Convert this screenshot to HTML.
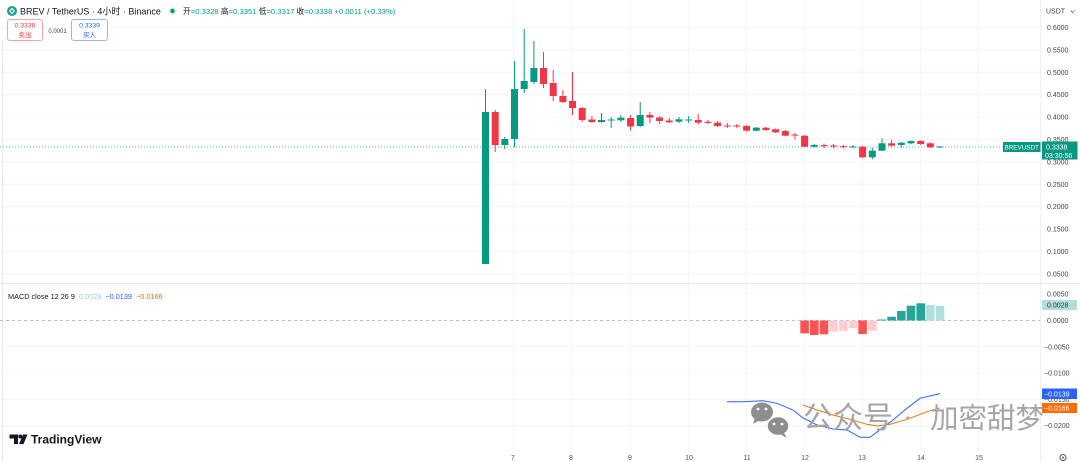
<!DOCTYPE html>
<html><head><meta charset="utf-8"><style>
html,body{margin:0;padding:0;background:#fff;}
body{width:1080px;height:462px;overflow:hidden;}
svg{display:block;font-family:"Liberation Sans","Noto Sans CJK SC",sans-serif;}
text{white-space:pre;}
</style></head><body>
<svg width="1080" height="462" viewBox="0 0 1080 462" xmlns="http://www.w3.org/2000/svg">
<rect width="1080" height="462" fill="#fff"/>
<!-- grid main -->
<g stroke="#f2f4f8" stroke-width="1">
<line x1="0" x2="1040" y1="27.5" y2="27.5"/><line x1="0" x2="1040" y1="49.9" y2="49.9"/><line x1="0" x2="1040" y1="72.3" y2="72.3"/><line x1="0" x2="1040" y1="94.7" y2="94.7"/><line x1="0" x2="1040" y1="117.1" y2="117.1"/><line x1="0" x2="1040" y1="139.5" y2="139.5"/><line x1="0" x2="1040" y1="161.9" y2="161.9"/><line x1="0" x2="1040" y1="184.3" y2="184.3"/><line x1="0" x2="1040" y1="206.7" y2="206.7"/><line x1="0" x2="1040" y1="229.1" y2="229.1"/><line x1="0" x2="1040" y1="251.5" y2="251.5"/><line x1="0" x2="1040" y1="273.9" y2="273.9"/>
<line x1="0" x2="1040" y1="294" y2="294"/><line x1="0" x2="1040" y1="346.8" y2="346.8"/><line x1="0" x2="1040" y1="373.1" y2="373.1"/><line x1="0" x2="1040" y1="399.4" y2="399.4"/><line x1="0" x2="1040" y1="425.7" y2="425.7"/>
<line x1="513.5" x2="513.5" y1="0" y2="450"/><line x1="571.5" x2="571.5" y1="0" y2="450"/><line x1="630.5" x2="630.5" y1="0" y2="450"/><line x1="688.5" x2="688.5" y1="0" y2="450"/><line x1="746.5" x2="746.5" y1="0" y2="450"/><line x1="804.5" x2="804.5" y1="0" y2="450"/><line x1="862.5" x2="862.5" y1="0" y2="450"/><line x1="920.5" x2="920.5" y1="0" y2="450"/><line x1="978.5" x2="978.5" y1="0" y2="450"/>
</g>
<line x1="1040.5" x2="1040.5" y1="0" y2="462" stroke="#eef0f4"/>
<line x1="0" x2="1080" y1="283.5" y2="283.5" stroke="#e6e8ee"/>
<line x1="2.5" x2="2.5" y1="40" y2="462" stroke="#e8e8e8"/>

<!-- header -->
<circle cx="12" cy="11" r="5" fill="#1f9e8c"/>
<path d="M12 7.6 L15 11 L12 14.4 L9 11 Z" fill="#fff"/>
<path d="M12 9.2 L13.6 11 L12 12.8 L10.4 11 Z" fill="#1f9e8c"/>
<text x="20" y="14.3" font-size="9" fill="#131722">BREV / TetherUS · 4小时 · Binance</text>
<circle cx="172.5" cy="11" r="3.6" fill="#d3efe9"/>
<circle cx="172.5" cy="11" r="2.2" fill="#089981"/>
<text x="183" y="13.8" font-size="7.7"><tspan fill="#131722">开</tspan><tspan fill="#089981">=0.3328 </tspan><tspan fill="#131722">高</tspan><tspan fill="#089981">=0.3351 </tspan><tspan fill="#131722">低</tspan><tspan fill="#089981">=0.3317 </tspan><tspan fill="#131722">收</tspan><tspan fill="#089981">=0.3338 +0.0011 (+0.33%)</tspan></text>
<rect x="7.5" y="19.5" width="35" height="21" rx="2.5" fill="#fff" stroke="#f5a3aa"/>
<text x="25" y="27.6" font-size="6.8" fill="#f23645" text-anchor="middle">0.3338</text>
<text x="25" y="37.2" font-size="6.5" fill="#f23645" text-anchor="middle">卖出</text>
<text x="57.5" y="33" font-size="6" fill="#444" text-anchor="middle">0.0001</text>
<rect x="71.5" y="19.5" width="36" height="21" rx="2.5" fill="#fff" stroke="#9fb5ef"/>
<text x="89.5" y="27.6" font-size="6.8" fill="#2962ff" text-anchor="middle">0.3339</text>
<text x="89.5" y="37.2" font-size="6.5" fill="#2962ff" text-anchor="middle">买入</text>

<!-- price axis -->
<g font-size="7" fill="#444">
<text x="1046" y="13.5">USDT</text>
<text x="1047" y="30">0.6000</text><text x="1047" y="52.4">0.5500</text><text x="1047" y="74.8">0.5000</text><text x="1047" y="97.2">0.4500</text><text x="1047" y="119.6">0.4000</text><text x="1047" y="142">0.3500</text><text x="1047" y="164.4">0.3000</text><text x="1047" y="186.8">0.2500</text><text x="1047" y="209.2">0.2000</text><text x="1047" y="231.6">0.1500</text><text x="1047" y="254">0.1000</text><text x="1047" y="276.4">0.0500</text>
<text x="1047" y="296.5">0.0050</text><text x="1047" y="323">0.0000</text><text x="1044" y="349.3">−0.0050</text><text x="1044" y="375.6">−0.0100</text><text x="1044" y="401.9">−0.0150</text><text x="1044" y="428.2">−0.0200</text>
</g>
<path d="M1070.5 10.5 L1072.5 12.5 L1074.5 10.5" fill="none" stroke="#666" stroke-width="0.8"/>

<!-- last price line -->
<line x1="0" x2="1003" y1="147" y2="147" stroke="#089981" stroke-width="1" stroke-dasharray="1,2" opacity="0.7"/>
<rect x="1003" y="142" width="37.5" height="10" fill="#089981"/>
<text x="1021.7" y="149.6" font-size="6.3" fill="#fff" text-anchor="middle">BREVUSDT</text>
<rect x="1042" y="141.5" width="35.5" height="18" fill="#089981"/>
<text x="1046" y="149.3" font-size="7" fill="#fff">0.3338</text>
<text x="1045" y="157.8" font-size="7" fill="#fff">03:30:56</text>

<!-- candles green -->
<g stroke="#089981" stroke-width="1" fill="#089981">
<line x1="485.5" x2="485.5" y1="89" y2="264"/><rect stroke="none" x="482" y="112" width="7" height="152"/>
<line x1="504.8" x2="504.8" y1="137" y2="149"/><rect stroke="none" x="501.3" y="139" width="7" height="6"/>
<line x1="514.5" x2="514.5" y1="61" y2="147"/><rect stroke="none" x="511" y="89" width="7" height="50"/>
<line x1="524.2" x2="524.2" y1="29" y2="93"/><rect stroke="none" x="520.7" y="81" width="7" height="8"/>
<line x1="533.9" x2="533.9" y1="41" y2="84"/><rect stroke="none" x="530.4" y="68" width="7" height="14"/>
<line x1="601.5" x2="601.5" y1="113" y2="123"/><rect stroke="none" x="598" y="120" width="7" height="2"/>
<line x1="611.2" x2="611.2" y1="117" y2="128"/><rect stroke="none" x="607.7" y="119.5" width="7" height="1"/>
<line x1="620.9" x2="620.9" y1="115" y2="122"/><rect stroke="none" x="617.4" y="117.7" width="7" height="2.6"/>
<line x1="640.2" x2="640.2" y1="102" y2="127"/><rect stroke="none" x="636.7" y="115" width="7" height="11"/>
<line x1="678.9" x2="678.9" y1="117" y2="123"/><rect stroke="none" x="675.4" y="119.3" width="7" height="2.4"/>
<line x1="688.6" x2="688.6" y1="116" y2="123"/><rect stroke="none" x="685.1" y="119.5" width="7" height="1"/>
<line x1="756.3" x2="756.3" y1="127" y2="131.5"/><rect stroke="none" x="752.8" y="127.7" width="7" height="3"/>
<line x1="814.3" x2="814.3" y1="144" y2="147.5"/><rect stroke="none" x="810.8" y="145" width="7" height="1.7"/>
<line x1="853" x2="853" y1="145" y2="148"/><rect stroke="none" x="849.5" y="146.5" width="7" height="1"/>
<line x1="872.3" x2="872.3" y1="147.7" y2="159.3"/><rect stroke="none" x="868.8" y="150.7" width="7" height="6.6"/>
<line x1="882" x2="882" y1="138.3" y2="151"/><rect stroke="none" x="878.5" y="143.3" width="7" height="7.4"/>
<line x1="901.3" x2="901.3" y1="142" y2="147.7"/><rect stroke="none" x="897.8" y="142.7" width="7" height="2.3"/>
<line x1="911" x2="911" y1="140.5" y2="144"/><rect stroke="none" x="907.5" y="141" width="7" height="2.3"/>
<line x1="940" x2="940" y1="146" y2="148"/><rect stroke="none" x="936.5" y="146.5" width="7" height="1"/>
</g>
<!-- candles red -->
<g stroke="#f23645" stroke-width="1" fill="#f23645">
<line x1="495.2" x2="495.2" y1="110" y2="152"/><rect stroke="none" x="491.7" y="112" width="7" height="33"/>
<line x1="543.5" x2="543.5" y1="52" y2="88"/><rect stroke="none" x="540" y="68" width="7" height="16"/>
<line x1="553.2" x2="553.2" y1="70" y2="101"/><rect stroke="none" x="549.7" y="83" width="7" height="13"/>
<line x1="562.9" x2="562.9" y1="90" y2="103"/><rect stroke="none" x="559.4" y="96" width="7" height="6"/>
<line x1="572.5" x2="572.5" y1="72" y2="115"/><rect stroke="none" x="569" y="101" width="7" height="7"/>
<line x1="582.2" x2="582.2" y1="107" y2="122"/><rect stroke="none" x="578.7" y="108" width="7" height="12"/>
<line x1="591.9" x2="591.9" y1="116" y2="123"/><rect stroke="none" x="588.4" y="119.5" width="7" height="2.5"/>
<line x1="630.6" x2="630.6" y1="115" y2="130.5"/><rect stroke="none" x="627.1" y="118" width="7" height="8.5"/>
<line x1="649.9" x2="649.9" y1="112" y2="123"/><rect stroke="none" x="646.4" y="115" width="7" height="2.5"/>
<line x1="659.6" x2="659.6" y1="116" y2="124"/><rect stroke="none" x="656.1" y="117.5" width="7" height="3.5"/>
<line x1="669.2" x2="669.2" y1="118" y2="123"/><rect stroke="none" x="665.7" y="120.5" width="7" height="1.8"/>
<line x1="698.2" x2="698.2" y1="114" y2="124.3"/><rect stroke="none" x="694.7" y="120" width="7" height="2.7"/>
<line x1="707.9" x2="707.9" y1="120" y2="124"/><rect stroke="none" x="704.4" y="121.7" width="7" height="1.2"/>
<line x1="717.6" x2="717.6" y1="121" y2="127"/><rect stroke="none" x="714.1" y="122.7" width="7" height="3.3"/>
<line x1="727.3" x2="727.3" y1="123" y2="128"/><rect stroke="none" x="723.8" y="125.5" width="7" height="1"/>
<line x1="736.9" x2="736.9" y1="124" y2="128"/><rect stroke="none" x="733.4" y="125.5" width="7" height="1"/>
<line x1="746.6" x2="746.6" y1="125" y2="131.5"/><rect stroke="none" x="743.1" y="126" width="7" height="4.7"/>
<line x1="765.9" x2="765.9" y1="127" y2="131"/><rect stroke="none" x="762.4" y="127.7" width="7" height="2.3"/>
<line x1="775.6" x2="775.6" y1="128.5" y2="133"/><rect stroke="none" x="772.1" y="129.3" width="7" height="3"/>
<line x1="785.3" x2="785.3" y1="130" y2="136"/><rect stroke="none" x="781.8" y="131" width="7" height="4.7"/>
<line x1="794.9" x2="794.9" y1="133" y2="139.3"/><rect stroke="none" x="791.4" y="134.5" width="7" height="1"/>
<line x1="804.6" x2="804.6" y1="135" y2="147"/><rect stroke="none" x="801.1" y="135.7" width="7" height="11"/>
<line x1="824" x2="824" y1="143.5" y2="148"/><rect stroke="none" x="820.5" y="145.2" width="7" height="1"/>
<line x1="833.6" x2="833.6" y1="144" y2="148.5"/><rect stroke="none" x="830.1" y="145.5" width="7" height="1"/>
<line x1="843.3" x2="843.3" y1="145" y2="148.5"/><rect stroke="none" x="839.8" y="146.2" width="7" height="1"/>
<line x1="862.6" x2="862.6" y1="146" y2="158"/><rect stroke="none" x="859.1" y="146.7" width="7" height="10.6"/>
<line x1="891.6" x2="891.6" y1="140" y2="146.5"/><rect stroke="none" x="888.1" y="143.3" width="7" height="2.4"/>
<line x1="920.7" x2="920.7" y1="140.5" y2="145"/><rect stroke="none" x="917.2" y="141" width="7" height="3"/>
<line x1="930.3" x2="930.3" y1="142.5" y2="148"/><rect stroke="none" x="926.8" y="143.3" width="7" height="4"/>
</g>

<!-- MACD pane -->
<text x="8" y="299" font-size="7.3"><tspan fill="#131722">MACD close 12 26 9 </tspan><tspan fill="#9fd6cf"> 0.0028 </tspan><tspan fill="#2962ff"> −0.0139 </tspan><tspan fill="#ff6d00"> −0.0166</tspan></text>
<line x1="0" x2="1040" y1="320.5" y2="320.5" stroke="#b8bcc6" stroke-dasharray="3,3"/>
<g>
<rect x="800.3" y="320.5" width="8.6" height="12.8" fill="#ff5252"/>
<rect x="810" y="320.5" width="8.6" height="14.5" fill="#ff5252"/>
<rect x="819.7" y="320.5" width="8.6" height="13.8" fill="#ff5252"/>
<rect x="829.3" y="320.5" width="8.6" height="11.2" fill="#ffcdd2"/>
<rect x="839" y="320.5" width="8.6" height="10.5" fill="#ffcdd2"/>
<rect x="848.7" y="320.5" width="8.6" height="7.8" fill="#ffcdd2"/>
<rect x="858.3" y="320.5" width="8.6" height="13.5" fill="#ff5252"/>
<rect x="868" y="320.5" width="8.6" height="10.2" fill="#ffcdd2"/>
<rect x="877.7" y="319.5" width="8.6" height="1" fill="#26a69a"/>
<rect x="887.3" y="316.7" width="8.6" height="3.8" fill="#26a69a"/>
<rect x="897" y="311" width="8.6" height="9.5" fill="#26a69a"/>
<rect x="906.7" y="305.7" width="8.6" height="14.8" fill="#26a69a"/>
<rect x="916.4" y="303.3" width="8.6" height="17.2" fill="#26a69a"/>
<rect x="926" y="305" width="8.6" height="15.5" fill="#b2dfdb"/>
<rect x="935.7" y="305.7" width="8.6" height="14.8" fill="#b2dfdb"/>
</g>
<polyline fill="none" stroke="#2962ff" stroke-width="1" points="727,401.7 743,401.7 763,400.7 777,403.3 793,410 803,418 817,425 833,429 847,430 860,437.3 870,437.3 882,428.3 893,420 907,408.3 920,398.3 940,393.6"/>
<polyline fill="none" stroke="#ff6d00" stroke-width="1" points="803,405 817,410 833,415 850,419.3 867,424.3 877,426 890,424.3 907,419.3 927,411.7 940,407.8"/>

<rect x="1042" y="300" width="35" height="10" fill="#b2dfdb"/>
<text x="1047" y="307.6" font-size="7" fill="#2a2e39">0.0028</text>
<rect x="1042" y="388.5" width="35" height="10.5" fill="#2962ff"/>
<text x="1044" y="396.4" font-size="7" fill="#fff">−0.0139</text>
<rect x="1042" y="403" width="35" height="10" fill="#ff6d00"/>
<text x="1044" y="410.6" font-size="7" fill="#fff">−0.0166</text>

<!-- watermark -->
<g fill="#8e8e8e">
<ellipse cx="762" cy="412" rx="11" ry="9.5"/>
<path d="M755 418 L753 424 L760 420 Z"/>
</g>
<circle cx="758" cy="409" r="1.4" fill="#fff"/><circle cx="766" cy="409" r="1.4" fill="#fff"/>
<ellipse cx="778" cy="426" rx="11" ry="9.5" fill="#8e8e8e" stroke="#fff" stroke-width="1.5"/>
<path d="M784 433 L787 438 L780 434 Z" fill="#8e8e8e"/>
<circle cx="774" cy="424" r="1.4" fill="#fff"/><circle cx="782" cy="424" r="1.4" fill="#fff"/>
<g font-family="'Noto Sans CJK SC','WenQuanYi Zen Hei',sans-serif" fill="#a6a6a6">
<text x="803" y="428" font-size="30">公众号</text>
<text x="930" y="428" font-size="28.5">加密甜梦</text>
</g>
<circle cx="908" cy="418" r="1.6" fill="#a6a6a6"/>

<!-- TradingView logo -->
<g fill="#131722">
<path d="M9.5 434.5 H18 V444 H14 V438.5 H9.5 Z"/>
<circle cx="20.3" cy="436.5" r="2"/>
<path d="M23 434.5 H27.5 L23.5 444 H19 Z"/>
</g>
<text x="31" y="443.5" font-size="12" font-weight="bold" fill="#131722">TradingView</text>

<!-- time axis -->
<g font-size="7" fill="#555" text-anchor="middle">
<text x="513" y="460">7</text><text x="571" y="460">8</text><text x="630" y="460">9</text><text x="689" y="460">10</text><text x="747" y="460">11</text><text x="805" y="460">12</text><text x="862" y="460">13</text><text x="921" y="460">14</text><text x="979" y="460">15</text>
</g>
<circle cx="1063" cy="457.5" r="3" fill="none" stroke="#555" stroke-width="1"/>
<circle cx="1063" cy="457.5" r="1" fill="#555"/>
</svg>
</body></html>
